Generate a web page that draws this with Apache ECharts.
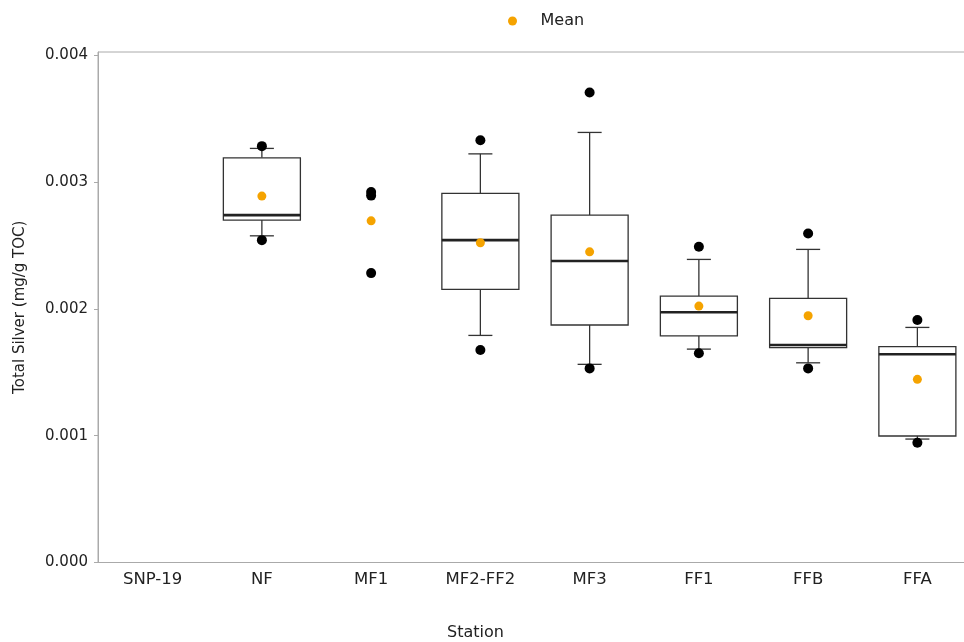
<!DOCTYPE html>
<html>
<head>
<meta charset="utf-8">
<script src="https://cdn.jsdelivr.net/npm/echarts@6/dist/echarts.min.js"></script>
<style>html,body{margin:0;padding:0;background:#fff;overflow:hidden;width:964px;height:642px;}#c{width:984px;height:642px;}</style>
</head>
<body>
<div id="c"></div>
<script>
// ---- data (values in mg/g TOC) ----
var stations = ['SNP-19', 'NF', 'MF1', 'MF2-FF2', 'MF3', 'FF1', 'FFB', 'FFA'];
var yTicks = [0, 0.001, 0.002, 0.003, 0.004];
// box stats: [stationIndex, whiskerLow, Q1, median, Q3, whiskerHigh]
var boxNF     = [1, 0.002575, 0.002699, 0.002738, 0.003190, 0.003264];
var boxMF2FF2 = [3, 0.001790, 0.002153, 0.002541, 0.002909, 0.003221];
var boxMF3    = [4, 0.001562, 0.001872, 0.002376, 0.002738, 0.003390];
var boxFF1    = [5, 0.001682, 0.001787, 0.001972, 0.002100, 0.002389];
var boxFFB    = [6, 0.001574, 0.001693, 0.001714, 0.002082, 0.002468];
var boxFFA    = [7, 0.000973, 0.000997, 0.001641, 0.001701, 0.001853];
// min / max points (black)
var extremePoints = [
  [1, 0.003282], [1, 0.002541],
  [2, 0.002920], [2, 0.002892], [2, 0.002281],
  [3, 0.003329], [3, 0.001675],
  [4, 0.003705], [4, 0.001530],
  [5, 0.002489], [5, 0.001649],
  [6, 0.002594], [6, 0.001530],
  [7, 0.001911], [7, 0.000944]
];
// means (orange)
var meanPoints = [
  [1, 0.002888], [2, 0.002693], [3, 0.002520], [4, 0.002449],
  [5, 0.002021], [6, 0.001945], [7, 0.001444]
];

var boxes = [boxNF, boxMF2FF2, boxMF3, boxFF1, boxFFB, boxFFA];

var FONT = 'DejaVu Sans';
var chart = echarts.init(document.getElementById('c'), null, {renderer: 'canvas'});

function renderBox(params, api) {
  var idx = api.value(0);
  var lo = api.coord([idx, api.value(1)]);
  var q1 = api.coord([idx, api.value(2)]);
  var md = api.coord([idx, api.value(3)]);
  var q3 = api.coord([idx, api.value(4)]);
  var hi = api.coord([idx, api.value(5)]);
  var band = api.size([1, 0])[0];
  var bw = band * 0.705;
  var cw = band * 0.22;
  var x = lo[0];
  var stroke = {stroke: '#333', lineWidth: 1.3, fill: null};
  return {
    type: 'group',
    children: [
      {type: 'line', shape: {x1: x, y1: lo[1], x2: x, y2: q1[1]}, style: stroke},
      {type: 'line', shape: {x1: x, y1: q3[1], x2: x, y2: hi[1]}, style: stroke},
      {type: 'line', shape: {x1: x - cw / 2, y1: lo[1], x2: x + cw / 2, y2: lo[1]}, style: stroke},
      {type: 'line', shape: {x1: x - cw / 2, y1: hi[1], x2: x + cw / 2, y2: hi[1]}, style: stroke},
      {type: 'rect', shape: {x: x - bw / 2, y: q3[1], width: bw, height: q1[1] - q3[1]},
        style: {fill: '#fff', stroke: '#333', lineWidth: 1.3}},
      {type: 'line', shape: {x1: x - bw / 2, y1: md[1], x2: x + bw / 2, y2: md[1]},
        style: {stroke: '#222', lineWidth: 2.6}}
    ]
  };
}

chart.setOption({
  animation: false,
  backgroundColor: '#fff',
  textStyle: {fontFamily: FONT},
  legend: {
    left: 503, top: 8,
    itemWidth: 46, itemHeight: 9,
    data: ['Mean'],
    textStyle: {fontFamily: FONT, fontSize: 16, color: '#222'}
  },
  grid: {
    left: 98, top: 52, right: 12, height: 510.5,
    outerBoundsMode: 'none', containLabel: false,
    show: true, borderColor: '#aaa', borderWidth: 1, backgroundColor: 'transparent'
  },
  xAxis: {
    type: 'category',
    data: stations,
    boundaryGap: true,
    axisLine: {lineStyle: {color: '#aaa', width: 1}},
    axisTick: {alignWithLabel: true, length: 3, lineStyle: {color: '#bbb'}},
    axisLabel: {fontFamily: FONT, fontSize: 16.5, color: '#222', margin: 9},
    splitLine: {show: false}
  },
  yAxis: {
    type: 'value',
    min: 0, max: 0.004024, interval: 0.001,
    name: 'Total Silver (mg/g TOC)',
    nameLocation: 'middle', nameGap: 70,
    nameTextStyle: {fontFamily: FONT, fontSize: 15, color: '#222'},
    axisLine: {show: true, lineStyle: {color: '#aaa', width: 1}},
    axisTick: {show: true, length: 4, lineStyle: {color: '#aaa'}},
    axisLabel: {
      fontFamily: FONT, fontSize: 15, color: '#222', margin: 10,
      showMaxLabel: false,
      formatter: function (v) {
        for (var i = 0; i < yTicks.length; i++) {
          if (Math.abs(v - yTicks[i]) < 1e-9) return yTicks[i].toFixed(3);
        }
        return '';
      }
    },
    splitLine: {show: false}
  },
  graphic: [{
    type: 'text', left: 447, top: 625,
    style: {text: 'Station', fontFamily: FONT, fontSize: 16, fill: '#222'}
  }],
  series: [
    {
      name: 'box', type: 'custom', renderItem: renderBox,
      data: boxes, encode: {x: 0, y: [1, 2, 3, 4, 5]}, z: 2
    },
    {
      name: 'extremes', type: 'scatter', data: extremePoints,
      symbol: 'circle', symbolSize: 10, itemStyle: {color: '#000', opacity: 1}, z: 3
    },
    {
      name: 'Mean', type: 'scatter', data: meanPoints,
      symbol: 'circle', symbolSize: 9, itemStyle: {color: '#f5a300', opacity: 1}, z: 4
    }
  ]
});
</script>
</body>
</html>
